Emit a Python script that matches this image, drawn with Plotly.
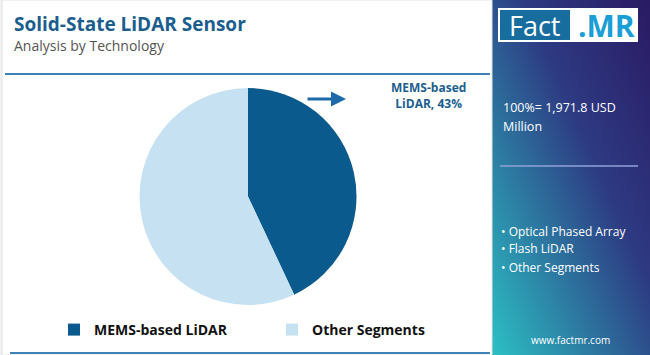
import plotly.graph_objects as go
import base64

categories = ["MEMS-based LiDAR", "Other Segments"]
shares = [43, 57]
colors = ["#0b5a8e", "#c6e1f1"]
title_text = "Solid-State LiDAR Sensor"
subtitle_text = "Analysis by Technology"
total_lines = ["100%= 1,971.8 USD", "Million"]
other_segments = ["Optical Phased Array", "Flash LiDAR", "Other Segments"]

W, H = 650, 355
FONT = "Open Sans"


def px(x):
    return x / W


def py(y):
    return (H - y) / H


fig = go.Figure()
fig.add_trace(go.Pie(
    labels=categories, values=shares, sort=False, direction="clockwise", rotation=0,
    marker=dict(colors=colors, line=dict(width=0)), textinfo="none", hoverinfo="label+percent",
    domain=dict(x=[px(139), px(357)], y=[py(305), py(88)]),
))

svg = '''<svg xmlns="http://www.w3.org/2000/svg" width="158" height="355" viewBox="0 0 158 355">
<defs><linearGradient id="g" x1="1" y1="0" x2="0" y2="1">
<stop offset="0" stop-color="#2a1a63"/><stop offset="0.4" stop-color="#2d3a82"/>
<stop offset="1" stop-color="#2cc0c4"/></linearGradient></defs>
<rect width="158" height="355" fill="url(#g)"/></svg>'''
src = "data:image/svg+xml;base64," + base64.b64encode(svg.encode()).decode()

shapes = [
    dict(type="rect", xref="paper", yref="paper", x0=px(2), x1=px(492), y0=0, y1=1,
         fillcolor="white", line=dict(color="#e2e2e2", width=1), layer="below"),
    dict(type="line", xref="paper", yref="paper", x0=px(5), x1=px(490), y0=py(74), y1=py(74),
         line=dict(color="#3f82b8", width=2)),
    dict(type="line", xref="paper", yref="paper", x0=px(10), x1=px(490), y0=py(353), y1=py(353),
         line=dict(color="#3f82b8", width=2)),
    dict(type="line", xref="paper", yref="paper", x0=px(500), x1=px(638), y0=py(166), y1=py(166),
         line=dict(color="#8fa3d6", width=1.5)),
    dict(type="rect", xref="paper", yref="paper", x0=px(498), x1=px(638), y0=py(42), y1=py(8),
         fillcolor="white", line=dict(width=0)),
    dict(type="rect", xref="paper", yref="paper", x0=px(500), x1=px(570), y0=py(40), y1=py(10),
         fillcolor="#176e9e", line=dict(width=0)),
]

annotations = [
    dict(text=f"<b>{title_text}</b>", x=px(12), y=py(24), xanchor="left", yanchor="middle",
         font=dict(family=FONT, size=19, color="#1b5e8e"), showarrow=False),
    dict(text=subtitle_text, x=px(12), y=py(45), xanchor="left", yanchor="middle",
         font=dict(family=FONT, size=14, color="#555555"), showarrow=False),
    dict(text="<b>MEMS-based<br>LiDAR, 43%</b>", x=px(428), y=py(96), xanchor="center", yanchor="middle",
         font=dict(family=FONT, size=12, color="#1b5e8e"), showarrow=False),
    dict(text="", x=px(346), y=py(99), ax=-40, ay=0, xref="paper", yref="paper",
         showarrow=True, arrowhead=2, arrowsize=1, arrowwidth=3, arrowcolor="#1e6aa8"),
    dict(text="Fact", x=px(535), y=py(25), xanchor="center", yanchor="middle",
         font=dict(family=FONT, size=27, color="white"), showarrow=False),
    dict(text="<b>.MR</b>", x=px(606), y=py(25), xanchor="center", yanchor="middle",
         font=dict(family=FONT, size=30, color="#1a9ed6"), showarrow=False),
    dict(text="www.factmr.com", x=px(570), y=py(340), xanchor="center", yanchor="middle",
         font=dict(family=FONT, size=10, color="white"), showarrow=False),
]
for i, line in enumerate(total_lines):
    annotations.append(dict(text=line, x=px(501), y=py(107 + 20 * i), xanchor="left", yanchor="middle",
                            font=dict(family=FONT, size=12.5, color="white"), showarrow=False))
for i, seg in enumerate(other_segments):
    annotations.append(dict(text="• " + seg, x=px(499), y=py(231 + 18 * i), xanchor="left", yanchor="middle",
                            font=dict(family=FONT, size=12, color="white"), showarrow=False))

fig.update_layout(
    width=W, height=H, margin=dict(l=0, r=0, t=0, b=0),
    paper_bgcolor="#f2f2f2", plot_bgcolor="white",
    shapes=shapes, annotations=annotations,
    images=[dict(source=src, xref="paper", yref="paper", x=px(492), y=1, sizex=158 / W, sizey=1,
                 xanchor="left", yanchor="top", sizing="stretch", layer="below")],
    showlegend=True,
    legend=dict(orientation="h", x=px(54), y=py(330), xanchor="left", yanchor="middle",
                font=dict(family=FONT, size=14, color="#111111", weight="bold"),
                entrywidth=173, bgcolor="rgba(0,0,0,0)", itemclick=False),
)

fig.write_html("out.html", config={"displayModeBar": False},
               post_script="document.body.style.margin='0';document.body.style.overflow='hidden';")
